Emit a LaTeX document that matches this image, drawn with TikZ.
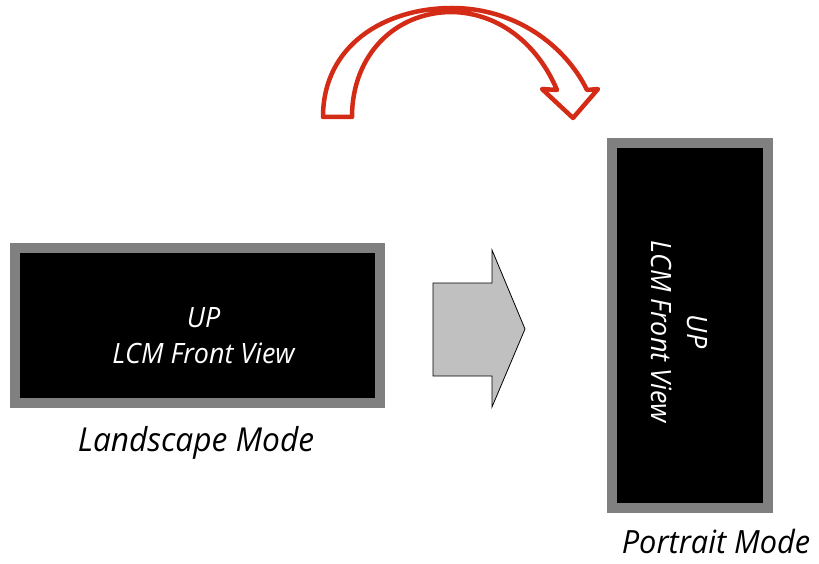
\documentclass[tikz,border=0pt]{standalone}
\usepackage{fontspec}
\setmainfont{Open Sans}[FakeStretch=0.96]
\definecolor{bezel}{RGB}{128,128,128}
\definecolor{turnred}{RGB}{212,43,22}
\definecolor{arrowgray}{RGB}{192,192,192}
\begin{document}
\begin{tikzpicture}[x=1pt,y=-1pt,
  screen/.style={draw=bezel,fill=black,line width=10pt,inner sep=0pt},
  screentext/.style={text=white,font=\itshape\fontsize{28}{36}\selectfont,align=center,inner sep=0pt},
  modelabel/.style={font=\itshape\fontsize{33}{36}\selectfont,inner sep=0pt,anchor=base}]
\useasboundingbox (0,0) rectangle (819,564);
% landscape screen
\node[screen,minimum width=365pt,minimum height=155pt] (land) at (197.5,325.5) {};
\node[screentext] (landtxt) at (203.5,335.5) {UP\\LCM Front View};
\node[modelabel] (landlbl) at (196,451) {Landscape Mode};
% portrait screen
\node[screen,minimum width=156pt,minimum height=365pt] (port) at (690,325.5) {};
\node[screentext,rotate=-90] (porttxt) at (679,331.5) {UP\\LCM Front View};
\node[modelabel,font=\itshape\fontsize{32}{36}\selectfont] (portlbl) at (716,553) {Portrait Mode};
% block arrow
\draw[fill=arrowgray,draw=black,line width=0.8pt,line join=miter]
  (433,283) -- (492,283) -- (492,250) -- (525,329) -- (492,407) -- (492,376) -- (433,376) -- cycle;
% curved turn arrow
\draw[draw=turnred,fill=white,line width=4.5pt,line join=round]
  (323,117) .. controls (323,45) and (385,8) .. (452,8)
  .. controls (515,8) and (565,45) .. (587,90)
  -- (598,89) -- (573,118) -- (542,89) -- (557,90)
  .. controls (538,45) and (500,13) .. (452,12)
  .. controls (395,12) and (352,55) .. (352,117) -- cycle;
\end{tikzpicture}
\end{document}
